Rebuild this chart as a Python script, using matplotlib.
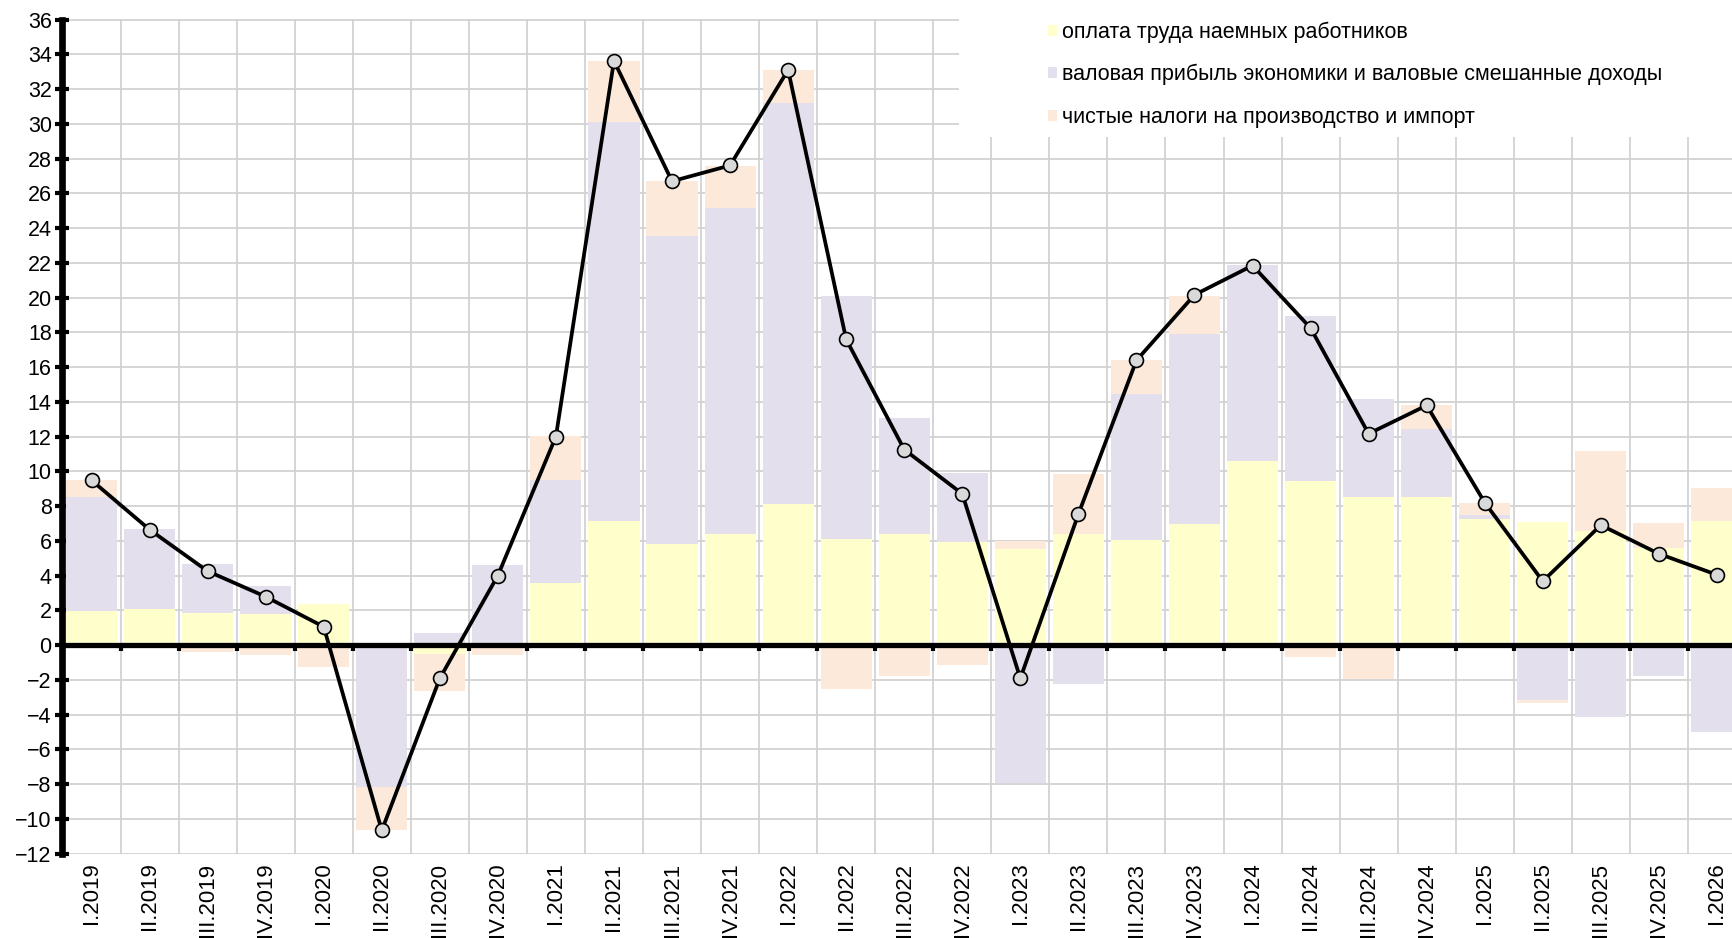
import matplotlib
matplotlib.use("Agg")
import matplotlib.pyplot as plt
from matplotlib.patches import Rectangle
import numpy as np

plt.rcParams['font.family'] = ['Liberation Sans', 'DejaVu Sans']

categories = ["I.2019", "II.2019", "III.2019", "IV.2019",
              "I.2020", "II.2020", "III.2020", "IV.2020",
              "I.2021", "II.2021", "III.2021", "IV.2021",
              "I.2022", "II.2022", "III.2022", "IV.2022",
              "I.2023", "II.2023", "III.2023", "IV.2023",
              "I.2024", "II.2024", "III.2024", "IV.2024",
              "I.2025", "II.2025", "III.2025", "IV.2025",
              "I.2026"]

compensation = [1.97, 2.05, 1.86, 1.76, 2.34, 0.0, -0.54, 0.0,
                3.58, 7.13, 5.80, 6.36, 8.10, 6.09, 6.38, 5.94,
                5.52, 6.38, 6.03, 6.95, 10.59, 9.43, 8.52, 8.52,
                7.25, 7.06, 6.54, 5.58, 7.15]
profit = [6.55, 4.62, 2.80, 1.63, 0.0, -8.2, 0.71, 4.6,
          5.90, 22.95, 17.76, 18.77, 23.07, 14.01, 6.67, 3.95,
          -7.92, -2.26, 8.43, 10.96, 11.3, 9.48, 5.66, 3.89,
          0.21, -3.17, -4.17, -1.77, -4.98]
taxes = [0.96, 0.0, -0.42, -0.57, -1.25, -2.45, -2.09, -0.57,
         2.53, 3.54, 3.13, 2.46, 1.93, -2.53, -1.76, -1.17,
         0.48, 3.45, 1.92, 2.20, 0.0, -0.67, -1.95, 1.38,
         0.74, -0.19, 4.61, 1.44, 1.87]
total = [9.48, 6.64, 4.25, 2.78, 1.05, -10.67, -1.92, 4.0,
         12.0, 33.62, 26.69, 27.6, 33.1, 17.59, 11.25, 8.70,
         -1.92, 7.53, 16.38, 20.15, 21.84, 18.24, 12.16, 13.79,
         8.2, 3.67, 6.9, 5.25, 4.04]

series_labels = ["оплата труда наемных работников",
                 "валовая прибыль экономики и валовые смешанные доходы",
                 "чистые налоги на производство и импорт"]
series_colors = ["#FFFFCC", "#E4DFEC", "#FDE9D9"]

W, H = 1732, 938
fig = plt.figure(figsize=(W / 100, H / 100), dpi=100)
ax_left, ax_top, ax_bottom = 62.5, 19.5, 853.5
ax = fig.add_axes([ax_left / W, (H - ax_bottom) / H, (W - ax_left) / W, (ax_bottom - ax_top) / H])

x = np.arange(len(categories))
pos_cum = np.zeros(len(x))
neg_cum = np.zeros(len(x))
for vals, col in zip([compensation, profit, taxes], series_colors):
    v = np.array(vals, dtype=float)
    bottom = np.where(v >= 0, pos_cum, neg_cum)
    ax.bar(x, v, bottom=bottom, width=0.88, color=col, edgecolor='none', zorder=1)
    pos_cum = pos_cum + np.where(v >= 0, v, 0)
    neg_cum = neg_cum + np.where(v < 0, v, 0)

ax.plot(x, total, color='black', lw=2.7, marker='o', markersize=10,
        markerfacecolor='#D9D9D9', markeredgecolor='black', markeredgewidth=1.2, zorder=4)

# y axis
ax.set_yticks(np.arange(-12, 37, 2))
ax.tick_params(axis='y', direction='inout', length=9.5, width=3.0, labelsize=15.5, pad=3.0, color='black')
ax.spines['left'].set_linewidth(4.8)
ax.spines['left'].set_color('black')

# x axis at zero with boundary ticks
ax.spines['bottom'].set_position(('data', 0))
ax.spines['bottom'].set_linewidth(3.8)
ax.spines['bottom'].set_zorder(3)
ax.set_xticks(np.arange(len(x) + 1) - 0.5)
ax.tick_params(axis='x', direction='out', length=4.0, width=3.0, labelbottom=False, color='black')
ax.spines['top'].set_visible(False)
ax.spines['right'].set_visible(False)

# grid
ax.set_axisbelow(True)
ax.grid(True, color='#D2D2D2', lw=1.3)

# category labels at the bottom
sec = ax.secondary_xaxis('bottom')
sec.set_xticks(x, labels=categories)
sec.tick_params(axis='x', length=0, pad=6.5, labelsize=16, labelrotation=90)
sec.spines['bottom'].set_visible(False)

# limits (after ticks, so tick setting does not expand them)
ax.set_xlim(-0.5, -0.5 + (W - ax_left) / 58.05)
ax.set_ylim(-12, 36)

# legend area
fig.add_artist(Rectangle((959 / W, 1 - 137 / H), 1 - 959 / W, 137 / H,
                         transform=fig.transFigure, facecolor='white', edgecolor='none', zorder=1))
row_y = [32, 74.5, 117]
for lab, col, ry in zip(series_labels, series_colors, row_y):
    fig.add_artist(Rectangle((1047.5 / W, 1 - (ry + 4) / H), 9.5 / W, 11 / H,
                             transform=fig.transFigure, facecolor=col, edgecolor='none', zorder=2))
    fig.text(1062.5 / W, 1 - ry / H, lab, ha='left', va='center', fontsize=15.5, zorder=3)

fig.savefig("out.png", dpi=100)
